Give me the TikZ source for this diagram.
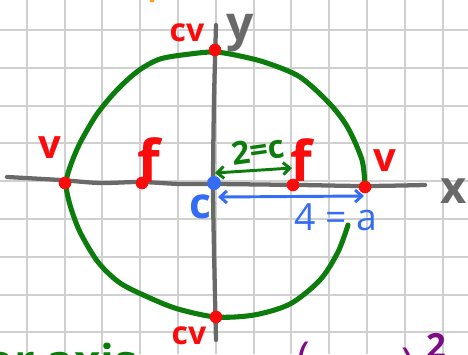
\documentclass[tikz,border=0pt]{standalone}
\usepackage{fontspec}
\setmainfont{Open Sans}
\usetikzlibrary{arrows.meta}
\definecolor{gridc}{RGB}{208,208,208}
\definecolor{axisc}{RGB}{105,105,105}
\definecolor{ellc}{RGB}{12,125,12}
\definecolor{redc}{RGB}{250,12,12}
\definecolor{bluec}{RGB}{52,108,245}
\definecolor{purc}{RGB}{125,10,135}
\definecolor{orc}{RGB}{250,160,30}
\begin{document}
\begin{tikzpicture}[x=0.75pt,y=-0.75pt,
  gridline/.style={draw=gridc,line width=1.5pt},
  axisline/.style={draw=axisc,line width=3.2pt,line cap=round},
  ellline/.style={draw=ellc,line width=3.8pt,line cap=round,line join=round},
  reddot/.style={circle,fill=redc,inner sep=0pt,minimum size=9.5pt},
  bluedot/.style={circle,fill=bluec,inner sep=0pt,minimum size=10.5pt},
  hand/.style={inner sep=0pt,font=\bfseries},
  dimarrow/.style={line width=2.2pt,line cap=round,{Straight Barb[length=5pt,width=9pt]}-{Straight Barb[length=5pt,width=9pt]}}]
\clip (0,0) rectangle (468,354);
\fill[white] (0,0) rectangle (468,354);
% grid paper
\foreach \i in {0,...,11} \draw[gridline] ({26.7+37.8*\i},0) -- ++(0,354);
\foreach \j in {0,...,8} \draw[gridline] (0,{30+37.8*\j}) -- ++(468,0);
% orange scrap at top
\fill[orc] (152,0) circle (2.5);
% ellipse (hand drawn)
\draw[ellline] plot[smooth,tension=0.5] coordinates {
 (365,186) (362,160) (348,128) (330,104) (300,77) (267,63) (240,56) (215,52)
 (190,54) (160,59) (138,71) (117,90) (97,114) (80,143) (70,167) (66,184)
 (70,205) (80,232) (98,262) (120,283) (150,298) (178,309) (216,317)
 (254,315) (290,304) (320,280) (338,252) (348,225)};
% axes
\draw[axisline] plot[smooth,tension=0.5] coordinates {(7,177) (60,180) (100,183) (140,182) (180,184) (215,184) (300,185) (365,186) (425,185)};
\draw[axisline] plot[smooth,tension=0.5] coordinates {(216,25) (214,100) (213,184) (214,250) (216,340)};
% points
\node[reddot] (V1) at (65,183) {};
\node[reddot] (V2) at (365,187) {};
\node[reddot] (F1) at (142,183) {};
\node[reddot] (F2) at (293,185) {};
\node[reddot] (CV1) at (215,50) {};
\node[reddot] (CV2) at (216,317) {};
\node[bluedot] (C) at (214,183) {};
% labels
\node[hand,text=redc,font=\bfseries\fontsize{24}{24}\selectfont] (lcv1) at (187,33) {cv};
\node[hand,text=axisc,font=\bfseries\fontsize{36}{36}\selectfont] (ly) at (240,33) {y};
\node[hand,text=redc,font=\bfseries\fontsize{30}{30}\selectfont] (lv1) at (50,148) {v};
\node[hand,text=redc,font=\bfseries\fontsize{44}{44}\selectfont] (lf1) at (149,160) {f};
\node[hand,text=ellc,font=\bfseries\fontsize{24}{24}\selectfont,rotate=8] (lc) at (258,150) {2=c};
\node[hand,text=redc,font=\bfseries\fontsize{42}{42}\selectfont] (lf2) at (301,160) {f};
\node[hand,text=redc,font=\bfseries\fontsize{30}{30}\selectfont] (lv2) at (385,161) {v};
\node[hand,text=axisc,font=\bfseries\fontsize{34}{34}\selectfont] (lx) at (454,191) {x};
\node[hand,text=bluec,font=\bfseries\fontsize{32}{32}\selectfont] (lC) at (200,207) {c};
\node[hand,text=bluec,font=\fontsize{28}{28}\selectfont] (la) at (336,217) {4 = a};
\node[hand,text=redc,font=\bfseries\fontsize{24}{24}\selectfont] (lcv2) at (189,336) {cv};
% cut-off writing at the bottom
\node[hand,text=ellc,font=\bfseries\fontsize{34}{34}\selectfont,anchor=base west] (lmaj) at (-14,377) {or axis};
\node[hand,text=purc,font=\fontsize{32}{32}\selectfont,anchor=base] (lp1) at (304,372) {(};
\node[hand,text=purc,font=\fontsize{32}{32}\selectfont,anchor=base] (lp2) at (408,378) {)};
\node[hand,text=purc,font=\bfseries\fontsize{26}{26}\selectfont,anchor=base] (lp3) at (436,358) {2};
% distance arrows
\coordinate (gA) at (215,173);
\coordinate (gB) at (292,168);
\coordinate (bA) at (218,197);
\coordinate (bB) at (364,196);
\draw[dimarrow,draw=ellc] (gA) -- (gB);
\draw[dimarrow,draw=bluec] (bA) -- (bB);
\end{tikzpicture}
\end{document}
